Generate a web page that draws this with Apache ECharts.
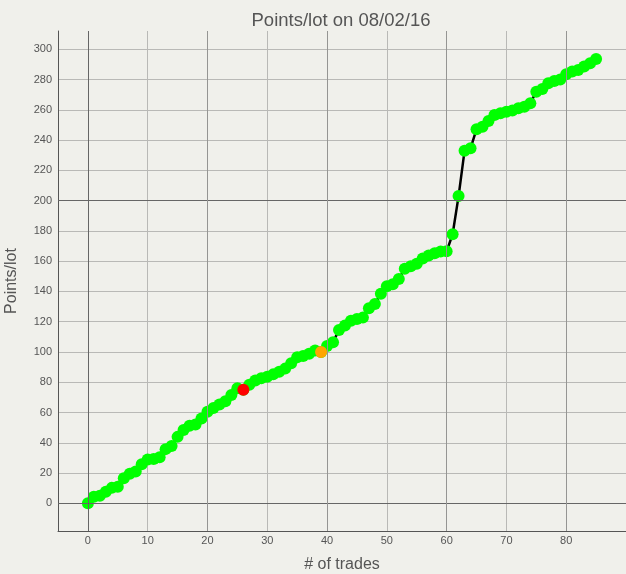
<!DOCTYPE html>
<html>
<head>
<meta charset="utf-8">
<script src="https://cdn.jsdelivr.net/npm/echarts@6/dist/echarts.min.js"></script>
<style>html,body{margin:0;padding:0;background:#f0f0eb;}#c{width:626px;height:574px;}</style>
</head>
<body>
<div id="c"></div>
<script>
// Data
var titleText = 'Points/lot on 08/02/16';
var xName = '# of trades';
var yName = 'Points/lot';
var trades = [];
for (var k = 0; k <= 85; k++) trades.push(k);
var points = [
  0, 4.3, 5, 7.6, 10.2, 11, 16.5, 19.6, 21, 25.8,
  29, 29.2, 30.4, 35.8, 37.8, 43.9, 48.5, 51.3, 52, 56,
  60.5, 63, 65.3, 67.5, 71.6, 76, 75, 78.4, 81.2, 82.6,
  83.7, 85.2, 87, 89, 92.5, 96.5, 97.3, 98.8, 101, 100,
  104, 106.5, 114.5, 117.5, 120.7, 121.8, 122.7, 128.9, 131.7, 138.5,
  143.4, 144.8, 148.2, 155, 156.6, 158.3, 161.7, 163.7, 165.3, 166.4,
  166.5, 177.8, 203, 233, 234.6, 247.2, 248.9, 252.7, 256.6, 257.7,
  258.8, 259.6, 261, 262, 264.4, 272, 273.8, 277.6, 279.1, 280,
  283.5, 285.3, 286.4, 288.6, 290.8, 293.6
];
var redIndex = 26;
var orangeIndex = 39;
var darkYLines = [0, 200];
var darkXLines = [0];
var midXLines = [20, 40, 60, 80];

var chart = echarts.init(document.getElementById('c'), null, {renderer: 'canvas'});
var lineData = trades.map(function (t, i) { return [t, points[i]]; });
var font = 'Liberation Sans';
var option = {
  backgroundColor: '#f0f0eb',
  animation: false,
  title: {
    text: titleText,
    left: 336, top: 6, textAlign: 'center',
    textStyle: {fontFamily: font, fontSize: 18.5, fontWeight: 'normal', color: '#555'}
  },
  grid: {left: 58, right: 0, top: 31, bottom: 43, containLabel: false, outerBoundsMode: 'none'},
  xAxis: {
    type: 'value', min: -5, max: 90, minInterval: 10, maxInterval: 10,
    name: xName, nameLocation: 'middle', nameGap: 26,
    nameTextStyle: {fontFamily: font, fontSize: 16, color: '#555'},
    axisLine: {show: true, onZero: false, lineStyle: {color: '#555', width: 1}},
    axisTick: {show: false},
    axisLabel: {fontFamily: font, fontSize: 11, color: '#555', margin: 4,
      formatter: function (v) { return (v % 10 === 0 && v >= 0 && v <= 80) ? String(v) : ''; }},
    splitLine: {show: true, showMinLine: false, showMaxLine: false, lineStyle: {color: '#b9b9b6', width: 1}}
  },
  yAxis: {
    type: 'value', min: -18.3, max: 312.1, minInterval: 20, maxInterval: 20,
    name: yName, nameLocation: 'middle', nameGap: 38, nameRotate: 90,
    nameTextStyle: {fontFamily: font, fontSize: 16, color: '#555'},
    axisLine: {show: true, onZero: false, lineStyle: {color: '#555', width: 1}},
    axisTick: {show: false},
    axisLabel: {fontFamily: font, fontSize: 11, color: '#555', margin: 6,
      formatter: function (v) { return (v % 20 === 0 && v >= 0 && v <= 300) ? String(v) : ''; }},
    splitLine: {show: true, showMinLine: false, showMaxLine: false, lineStyle: {color: '#b9b9b6', width: 1}}
  },
  series: [
    {
      type: 'line', data: [], z: 1, silent: true,
      markLine: {
        silent: true, symbol: 'none', label: {show: false}, animation: false,
        data: darkYLines.map(function (v) { return {yAxis: v, lineStyle: {color: '#666', width: 1, type: 'solid'}}; })
          .concat(darkXLines.map(function (v) { return {xAxis: v, lineStyle: {color: '#666', width: 1, type: 'solid'}}; }))
          .concat(midXLines.map(function (v) { return {xAxis: v, lineStyle: {color: '#959593', width: 1, type: 'solid'}}; }))
      }
    },
    {
      type: 'line', data: lineData, z: 3,
      symbol: 'circle', symbolSize: 12, showAllSymbol: true,
      lineStyle: {color: '#000', width: 2.5},
      itemStyle: {color: '#00ff00', borderWidth: 0, opacity: 1}
    },
    {
      type: 'scatter', z: 4, symbolSize: 12,
      itemStyle: {opacity: 1},
      data: [
        {value: [trades[redIndex], points[redIndex]], itemStyle: {color: '#ff0000', opacity: 1}},
        {value: [trades[orangeIndex], points[orangeIndex]], itemStyle: {color: '#ffa500', opacity: 1}}
      ]
    }
  ]
};
chart.setOption(option);
</script>
</body>
</html>
